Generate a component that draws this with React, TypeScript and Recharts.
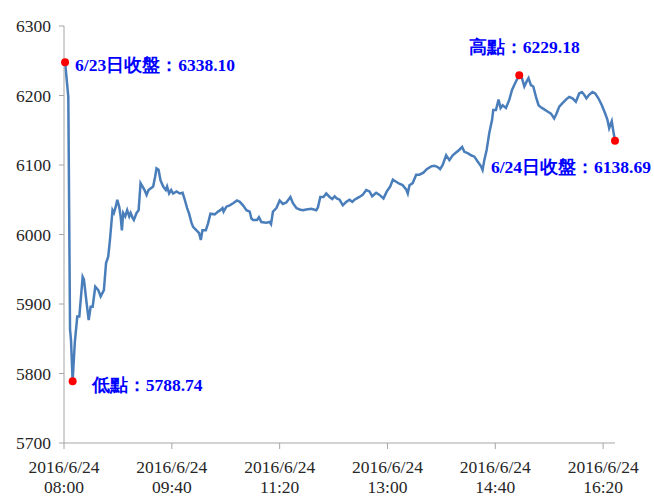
import React from 'react'
import { LineChart, Line, XAxis, YAxis, ReferenceDot } from 'recharts'

// minutes after 08:00 on 2016/6/24
const times = [
  1, 4, 5.6, 6.5, 8, 10, 12.3, 14.2, 17.3, 18.5, 21, 22.9, 24.7, 26.6, 29, 31.8, 34, 37, 39, 41,
  42.6, 45, 46.3, 48, 49.4, 51.2, 52.5, 53.7, 54.9, 56.8, 58.6, 60.5, 61.8, 63.6, 64.8, 67.3, 69.2, 71, 72.9, 74.7,
  76.6, 78.4, 82.7, 84.5, 85.8, 87.7, 89.5, 92, 94.4, 95.6, 97.5, 99.4, 101.2, 104.4, 107.4, 110, 112, 114.2, 116, 118.2,
  119.7, 122.9, 125.3, 126.9, 128.4, 131.5, 133.6, 135.8, 139.8, 142.9, 145, 147, 148, 150.6, 153.7, 156.8, 160.5, 163, 166, 169.2,
  172.2, 173.8, 175.3, 179, 180.8, 183, 187.7, 190.7, 192, 193.8, 197, 200, 203, 206.2, 210, 212.3, 215.5, 218.5, 221.6, 224.7,
  229.4, 234, 235.5, 237.7, 240.7, 243.2, 246.3, 248.8, 251, 253, 255.6, 258.6, 261.8, 264.8, 267.3, 269.4, 271.6, 274, 277, 280.3,
  283.3, 285.8, 289.5, 292.6, 296.3, 299.4, 302.5, 305, 308, 311, 314, 317.3, 318.8, 320.4, 323.4, 326.6, 329.6, 333.3, 336.4, 340.5,
  343.5, 346.6, 348.8, 351.2, 354.4, 357.4, 360.5, 363.6, 366.7, 369.2, 371.3, 374.4, 377.5, 380.6, 383.6, 386.8, 388.2, 389.8, 392, 394.4,
  397, 398.1, 400.6, 403, 404.9, 406.8, 409.9, 413, 415.5, 417.6, 419.7, 422.2, 424.7, 426.9, 429, 430.8, 433, 435.2, 437.7, 440.1,
  442.3, 445.4, 448.4, 451.6, 454.6, 456.8, 459.3, 462.3, 465.5, 468.5, 471.6, 474.7, 477.8, 480.3, 482.4, 484.5, 487, 490.1, 492.6, 495.6,
  498.8, 501.9, 504, 505.6, 508, 509.3, 511
]

const values = [
  6248, 6198, 5863, 5848, 5788.74, 5844, 5882, 5882, 5939, 5935, 5901, 5877, 5896, 5896, 5925, 5920, 5911, 5920, 5959, 5968,
  5992, 6035, 6031, 6040, 6050, 6040, 6026, 6006, 6031, 6026, 6035, 6026, 6031, 6024, 6021, 6031, 6035, 6074, 6069, 6064,
  6057, 6064, 6069, 6083, 6095, 6093, 6078, 6069, 6064, 6069, 6059, 6064, 6059, 6062, 6059, 6060, 6050, 6038, 6030, 6017,
  6011, 6006, 6002, 5992, 6006, 6006, 6016, 6030, 6029, 6033, 6035, 6038, 6033, 6040, 6042, 6045, 6049, 6047, 6042, 6035,
  6033, 6023, 6021, 6021, 6025, 6018, 6017, 6018, 6015, 6033, 6038, 6049, 6044, 6046, 6054, 6045, 6038, 6036, 6035, 6036,
  6037, 6035, 6039, 6054, 6054, 6059, 6054, 6051, 6055, 6052, 6050, 6042, 6047, 6050, 6047, 6050, 6052, 6054, 6057, 6064,
  6062, 6055, 6060, 6057, 6052, 6062, 6069, 6079, 6076, 6073, 6071, 6065, 6059, 6071, 6074, 6086, 6086, 6089, 6094, 6098,
  6099, 6097, 6094, 6100, 6114, 6107, 6114, 6118, 6122, 6126, 6119, 6117, 6114, 6112, 6105, 6098, 6093, 6107, 6122, 6146,
  6165, 6179, 6179, 6194, 6182, 6186, 6182, 6194, 6208, 6215, 6222, 6229.18, 6225, 6213, 6220, 6225, 6215, 6213, 6198, 6186,
  6183, 6180, 6177, 6174, 6167, 6174, 6184, 6189, 6194, 6198, 6196, 6191, 6203, 6205, 6201, 6196, 6201, 6205, 6203, 6196,
  6186, 6174, 6165, 6153, 6163, 6150, 6135
]

const dateLabel = '2016/6/24'
const tickMinutes = [0, 100, 200, 300, 400, 500]
const tickTimes = ['08:00', '09:40', '11:20', '13:00', '14:40', '16:20']
const yTicks = [5700, 5800, 5900, 6000, 6100, 6200, 6300]

// highlighted points: start, low, high, close
const markTimes = [1, 8, 422.2, 511]
const markValues = [6248, 5788.74, 6229.18, 6135]
const markTexts = ['6/23日收盤：6338.10', '低點：5788.74', '高點：6229.18', '6/24日收盤：6138.69']
// label offsets relative to the dot, and anchor
const markDx = [10, 19, 5, 36]
const markDy = [9, 10, -22, 32]
const markAnchor = ['start', 'start', 'middle', 'end']

const data = times.map((t, i) => ({ t, v: values[i] }))

const serif = 'Liberation Serif'
const axisColor = '#a6a6a6'

function XTick({ x, y, payload }: any) {
  const i = tickMinutes.indexOf(payload.value)
  return (
    <g transform={`translate(${x},${y})`}>
      <text textAnchor="middle" fill="#262626" style={{ fontSize: 17.5, fontFamily: serif }}>
        <tspan x={0} dy={22}>{dateLabel}</tspan>
        <tspan x={0} dy={20}>{tickTimes[i]}</tspan>
      </text>
    </g>
  )
}

function MarkLabel({ viewBox, i }: any) {
  const cx = viewBox.x + viewBox.width / 2
  const cy = viewBox.y + viewBox.height / 2
  return (
    <text
      x={cx + markDx[i]}
      y={cy + markDy[i]}
      textAnchor={markAnchor[i]}
      fill="#0000ff"
      style={{ fontSize: 17.5, fontWeight: 'bold', fontFamily: serif }}
    >
      {markTexts[i]}
    </text>
  )
}

export default function App() {
  return (
    <div style={{ position: 'absolute', left: 0, top: 0, background: '#fff' }}>
      <LineChart width={654} height={501} data={data} margin={{ top: 26, right: 39, bottom: 0, left: 0 }}>
        <XAxis
          dataKey="t"
          type="number"
          domain={[0, 511]}
          ticks={tickMinutes}
          tick={<XTick />}
          height={58}
          stroke={axisColor}
          tickSize={6}
          interval={0}
        />
        <YAxis
          domain={[5700, 6300]}
          ticks={yTicks}
          width={64}
          stroke={axisColor}
          tickSize={5}
          tickMargin={8}
          tick={{ fill: '#262626', fontSize: 17.5, style: { fontFamily: serif } }}
          interval={0}
        />
        <Line dataKey="v" type="linear" stroke="#4a7ebb" strokeWidth={2.5} dot={false} isAnimationActive={false} />
        {markTimes.map((t, i) => (
          <ReferenceDot
            key={i}
            x={t}
            y={markValues[i]}
            r={4}
            fill="#ff0000"
            stroke="none"
            label={(p: any) => <MarkLabel {...p} i={i} />}
          />
        ))}
      </LineChart>
    </div>
  )
}
